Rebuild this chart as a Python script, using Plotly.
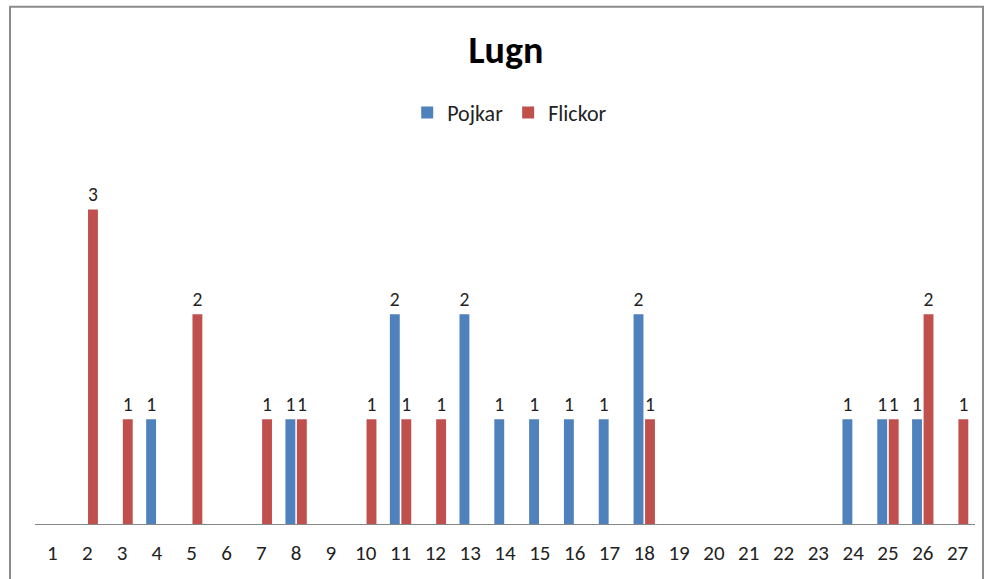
import plotly.graph_objects as go

categories = [str(i) for i in range(1, 28)]
pojkar = [None, None, None, 1, None, None, None, 1, None, None, 2, None, 2, 1, 1, 1, 1, 2,
          None, None, None, None, None, 1, 1, 1, None]
flickor = [None, 3, 1, None, 2, None, 1, 1, None, 1, 1, 1, None, None, None, None, None, 1,
           None, None, None, None, None, None, 1, 2, 1]

FONT = "Calibri, Carlito, Lato, sans-serif"
TXT = "#222"

fig = go.Figure()
fig.add_trace(go.Bar(name="Pojkar", x=categories, y=pojkar, marker_color="#4F81BD",
                     marker_line_width=0, text=pojkar, textposition="outside",
                     cliponaxis=False, textfont=dict(size=21, color=TXT, family=FONT)))
fig.add_trace(go.Bar(name="Flickor", x=categories, y=flickor, marker_color="#C0504D",
                     marker_line_width=0, text=flickor, textposition="outside",
                     cliponaxis=False, textfont=dict(size=21, color=TXT, family=FONT)))

fig.update_layout(
    width=992, height=579,
    margin=dict(l=35, r=17, t=156.5, b=55),
    paper_bgcolor="white", plot_bgcolor="white",
    barmode="group", bargap=0.34, bargroupgap=0.14,
    title=dict(text="<b>Lugn</b>", x=0.51, xanchor="center", y=1 - 50 / 579, yanchor="middle",
               font=dict(size=38, color="#000", family=FONT)),
    legend=dict(orientation="h", x=0.505, xanchor="center", y=1.121, yanchor="middle",
                font=dict(size=22, color=TXT, family=FONT), itemwidth=30,
                traceorder="normal"),
    xaxis=dict(showgrid=False, showline=True, linecolor="#868686", linewidth=1,
               ticks="", tickfont=dict(size=21, color=TXT, family=FONT), ticklabelstandoff=10),
    yaxis=dict(range=[0, 3.5], visible=False, showgrid=False),
    shapes=[dict(type="rect", xref="paper", yref="paper",
                 x0=(10 - 35) / 940, x1=(983 - 35) / 940,
                 y0=-0.3, y1=(524 - 6) / 367.5,
                 line=dict(color="#8c8c8c", width=2), fillcolor="rgba(0,0,0,0)", layer="below")],
)

fig.write_html("out.html", config={"displayModeBar": False},
               post_script="document.body.style.margin='0';")
